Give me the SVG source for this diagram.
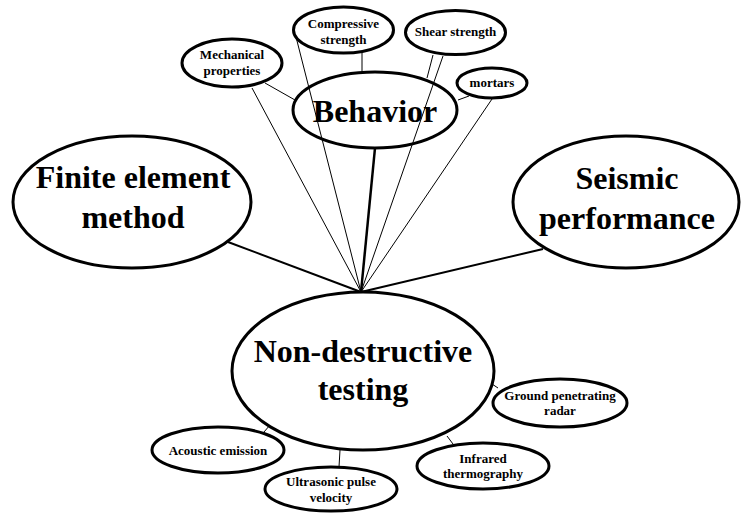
<svg xmlns="http://www.w3.org/2000/svg" width="741" height="513" viewBox="0 0 741 513">
<style>
.n{fill:#fff;stroke:#000;stroke-width:3}
.t{font-family:"Liberation Serif","Times New Roman",serif;font-weight:bold;text-anchor:middle;fill:#000}
.s{font-size:13px}
.b{font-size:32px}
.thin{stroke:#000;stroke-width:1;fill:none}
.mid{stroke:#000;stroke-width:2;fill:none}
</style>
<rect width="741" height="513" fill="#fff"/>
<g id="connectors">
<line class="mid" x1="228" y1="242" x2="361" y2="292"/>
<line class="mid" x1="543" y1="249" x2="361" y2="292"/>
<line class="mid" x1="375" y1="148" x2="361" y2="292" style="stroke-width:2.5"/>
<line class="thin" x1="252" y1="88" x2="361" y2="292"/>
<line class="thin" x1="296" y1="37" x2="361" y2="292"/>
<line class="thin" x1="443" y1="56" x2="361" y2="292"/>
<line class="thin" x1="492" y1="99" x2="361" y2="292"/>
<line class="thin" x1="362" y1="53" x2="362" y2="72"/>
<line class="thin" x1="265" y1="83" x2="295" y2="100"/>
<line class="thin" x1="433" y1="55" x2="427" y2="78"/>
<line class="thin" x1="458" y1="100" x2="469" y2="96"/>
<line class="thin" x1="264" y1="432" x2="270" y2="425"/>
<line class="thin" x1="340" y1="450" x2="339" y2="467"/>
<line class="thin" x1="447" y1="436" x2="453" y2="444"/>
<line class="thin" x1="489" y1="382" x2="498" y2="388"/>
</g>
<g id="behavior">
<ellipse class="n" cx="375" cy="110" rx="82" ry="38" style="fill:none"/>
<text class="t b" x="375" y="122">Behavior</text>
</g>
<g id="mechanical">
<ellipse class="n" cx="232" cy="63" rx="50" ry="24"/>
<text class="t s" x="232" y="59">Mechanical</text>
<text class="t s" x="232" y="75">properties</text>
</g>
<g id="compressive">
<ellipse class="n" cx="343.5" cy="30" rx="50" ry="23"/>
<text class="t s" x="343.5" y="28">Compressive</text>
<text class="t s" x="343.5" y="44">strength</text>
</g>
<g id="shear">
<ellipse class="n" cx="455.5" cy="32.5" rx="50" ry="22"/>
<text class="t s" x="455.5" y="36">Shear strength</text>
</g>
<g id="mortars">
<ellipse class="n" cx="492" cy="83" rx="35" ry="15"/>
<text class="t s" x="492" y="87">mortars</text>
</g>
<g id="fem">
<ellipse class="n" cx="132" cy="202" rx="119" ry="66"/>
<text class="t b" x="133" y="188">Finite element</text>
<text class="t b" x="133" y="228">method</text>
</g>
<g id="seismic">
<ellipse class="n" cx="626" cy="202" rx="113" ry="66"/>
<text class="t b" x="627" y="189">Seismic</text>
<text class="t b" x="627" y="229">performance</text>
</g>
<g id="ndt">
<ellipse class="n" cx="363" cy="371" rx="131" ry="79"/>
<text class="t b" x="363" y="362">Non-destructive</text>
<text class="t b" x="363" y="400">testing</text>
</g>
<g id="acoustic">
<ellipse class="n" cx="218" cy="450" rx="66" ry="23"/>
<text class="t s" x="218" y="455">Acoustic emission</text>
</g>
<g id="ultrasonic">
<ellipse class="n" cx="331" cy="489" rx="66" ry="22"/>
<text class="t s" x="331" y="486">Ultrasonic pulse</text>
<text class="t s" x="331" y="502">velocity</text>
</g>
<g id="infrared">
<ellipse class="n" cx="483" cy="466" rx="66" ry="23"/>
<text class="t s" x="483" y="463">Infrared</text>
<text class="t s" x="483" y="478">thermography</text>
</g>
<g id="gpr">
<ellipse class="n" cx="560" cy="403" rx="67" ry="24"/>
<text class="t s" x="560" y="400">Ground penetrating</text>
<text class="t s" x="560" y="415">radar</text>
</g>
</svg>
